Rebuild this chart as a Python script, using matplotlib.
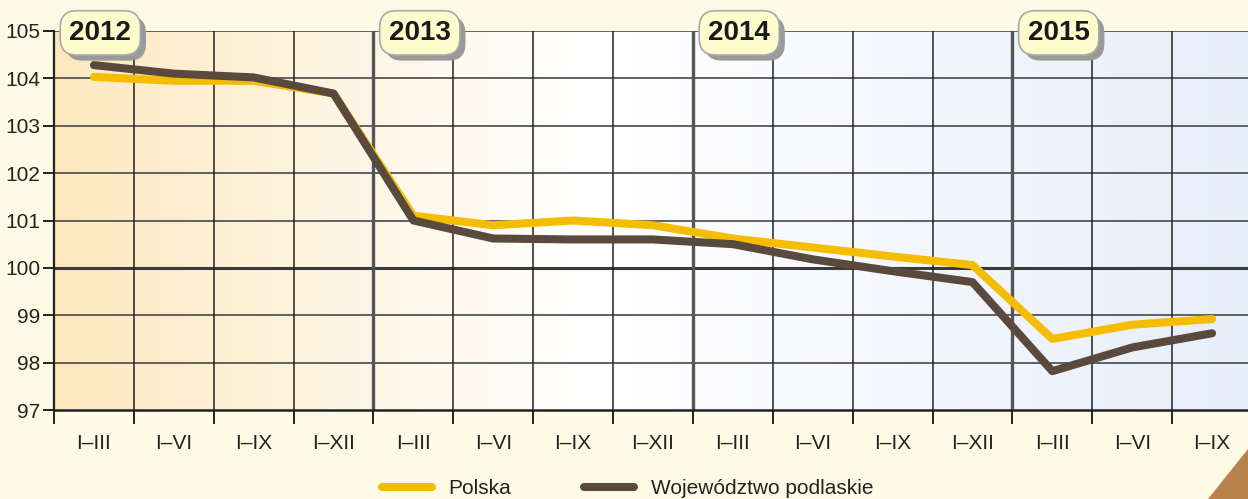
import matplotlib
matplotlib.use("Agg")
import matplotlib.pyplot as plt
import numpy as np
from matplotlib import patheffects
from matplotlib.patches import Polygon

categories = ["I–III", "I–VI", "I–IX", "I–XII",
              "I–III", "I–VI", "I–IX", "I–XII",
              "I–III", "I–VI", "I–IX", "I–XII",
              "I–III", "I–VI", "I–IX"]
polska = [104.03, 103.95, 103.95, 103.68,
          101.1, 100.9, 101.0, 100.9,
          100.62, 100.43, 100.24, 100.06,
          98.5, 98.8, 98.92]
podlaskie = [104.28, 104.1, 104.02, 103.68,
             101.0, 100.62, 100.6, 100.6,
             100.5, 100.18, 99.93, 99.7,
             97.82, 98.32, 98.62]
years = ["2012", "2013", "2014", "2015"]
year_start = [0, 4, 8, 12]
yticks = [97, 98, 99, 100, 101, 102, 103, 104, 105]

W, H = 1248, 499
fig = plt.figure(figsize=(W / 100, H / 100), dpi=100)
bg = "#fdfbe6"
fig.patch.set_facecolor(bg)

ax = fig.add_axes([54 / W, 1 - 410 / H, 1198 / W, 379 / H])
n = len(categories)
ax.set_xlim(-0.5, n - 0.5)
ax.set_ylim(97, 105)

# background gradient
stops = [(0.0, (253, 232, 190)), (0.27, (254, 247, 232)), (0.45, (255, 255, 255)),
         (0.62, (249, 250, 253)), (1.0, (230, 238, 250))]
xs = np.linspace(0, 1, 600)
grad = np.zeros((1, 600, 3))
for c in range(3):
    grad[0, :, c] = np.interp(xs, [s[0] for s in stops], [s[1][c] / 255 for s in stops])
ax.imshow(grad, extent=[-0.5, n - 0.5, 97, 105], aspect="auto", zorder=0)
ax.set_facecolor("white")

# grid
for yv in yticks:
    if yv == 100:
        ax.axhline(yv, color="#3a3a3a", lw=2.2, zorder=1)
    elif yv != 97:
        ax.axhline(yv, color="#555555", lw=1.3, zorder=1)
for i in range(1, n):
    if i % 4 == 0:
        ax.axvline(i - 0.5, color="#555555", lw=2.4, zorder=1)
    else:
        ax.axvline(i - 0.5, color="#222222", lw=1.1, zorder=1)

x = np.arange(n)
ax.plot(x, polska, color="#f5bd00", lw=5.8, solid_capstyle="round",
        solid_joinstyle="round", zorder=3, label="Polska")
ax.plot(x, podlaskie, color="#5a4a3e", lw=5.8, solid_capstyle="round",
        solid_joinstyle="round", zorder=4, label="Województwo podlaskie")

for s in ["top", "right"]:
    ax.spines[s].set_visible(False)
ax.spines["left"].set_color("#222222")
ax.spines["left"].set_linewidth(1.6)
ax.spines["bottom"].set_color("#222222")
ax.spines["bottom"].set_linewidth(1.8)
ax.spines["left"].set_zorder(2)

font = ["Liberation Sans Narrow", "Liberation Sans", "DejaVu Sans"]
ax.set_yticks(yticks)
ax.set_yticklabels([str(v) for v in yticks], family=font, fontsize=15, color="#222222")
ax.tick_params(axis="y", length=8, width=1.4, color="#222222", pad=2)

ax.set_xticks(np.arange(n + 1) - 0.5)
ax.set_xticklabels([])
ax.set_xticks(x, minor=True)
ax.set_xticklabels(categories, minor=True, family=font, fontsize=15, color="#222222")
ax.tick_params(axis="x", which="major", length=10, width=1.4, color="#222222")
ax.tick_params(axis="x", which="minor", length=0, pad=17)

# year labels
for yr, st in zip(years, year_start):
    t = ax.text(st + 0.08, 104.96, yr, ha="center", va="center",
                fontsize=20, fontweight="bold", family=font, color="#1a1a1a",
                bbox=dict(boxstyle="round,pad=0.33,rounding_size=0.6",
                          fc="#fefccd", ec="#a8a8a8", lw=1.2),
                zorder=6, clip_on=False)
    t.get_bbox_patch().set_path_effects([
        patheffects.SimplePatchShadow(offset=(4, -4), shadow_rgbFace="#9a9a9a", alpha=1.0),
        patheffects.Normal()])

leg = fig.legend(loc="center left", bbox_to_anchor=(382 / W, 1 - 489 / H), ncol=2,
                 frameon=False, prop={"family": font, "size": 15},
                 handlelength=2.4, handletextpad=0.8, columnspacing=3.5,
                 borderpad=0, borderaxespad=0)
for t in leg.get_texts():
    t.set_color("#222222")

# decorative corner
corner = Polygon([(1208 / W, 0), (1248 / W, 50 / H), (1.0, 0)], closed=True,
                 transform=fig.transFigure, fc="#b9824a", ec="none")
fig.patches.append(corner)

fig.savefig("out.png", dpi=100, facecolor=bg)
